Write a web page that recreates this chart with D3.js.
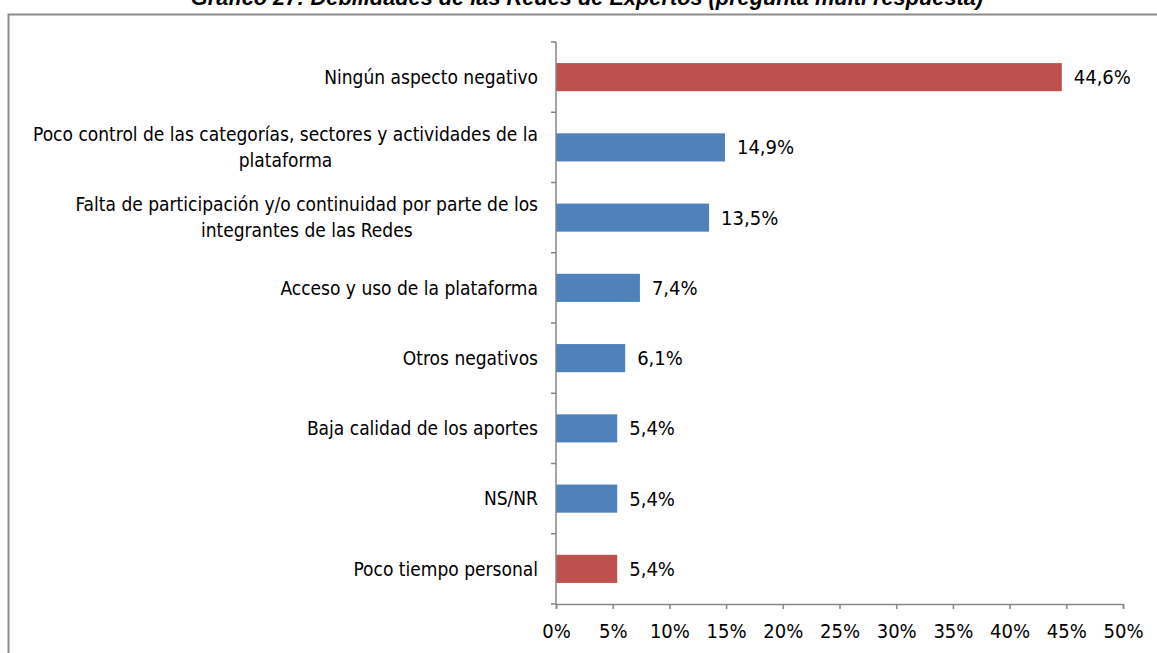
<!DOCTYPE html>
<html>
<head>
<meta charset="utf-8">
<script src="https://cdn.jsdelivr.net/npm/d3@7"></script>
<style>
  body { margin: 0; background: #fff; }
  svg { display: block; }
  .lbl { font-family: "Liberation Sans Narrow", "Arial Narrow", "DejaVu Sans Condensed", sans-serif; fill: #000; }
</style>
</head>
<body>
<svg width="1157" height="653"></svg>
<script>
// categorias (de arriba a abajo), cada una con sus lineas
var categories = [
    ["Ningún aspecto negativo"],
    ["Poco control de las categorías, sectores y actividades de la", "plataforma"],
    ["Falta de participación y/o continuidad por parte de los", "integrantes de las Redes"],
    ["Acceso y uso de la plataforma"],
    ["Otros negativos"],
    ["Baja calidad de los aportes"],
    ["NS/NR"],
    ["Poco tiempo personal"]
];
var values = [44.6, 14.9, 13.5, 7.4, 6.1, 5.4, 5.4, 5.4];
var highlight = [true, false, false, false, false, false, false, true]; // barras rojas
var ticks = [0, 5, 10, 15, 20, 25, 30, 35, 40, 45, 50];
var title = "Gráfico 27: Debilidades de las Redes de Expertos (pregunta multi respuesta)";

var svg = d3.select("svg");

// titulo (cortado arriba como en la imagen)
var t = svg.append("text")
    .attr("x", 587)
    .attr("y", 5)
    .attr("text-anchor", "middle")
    .style("font-family", "Liberation Sans, Arial, sans-serif")
    .style("font-weight", "bold")
    .style("font-style", "italic")
    .style("font-size", "20px")
    .text(title);
// ajustar tamaño para que ocupe el mismo ancho (~793px)
t.style("font-size", (20 * 793 / t.node().getComputedTextLength()) + "px");

// marco
svg.append("path")
    .attr("d", "M8.5,660 V14.5 H1160")
    .attr("fill", "none")
    .attr("stroke", "#8c8c8c")
    .attr("stroke-width", 2);

var x = d3.scaleLinear().domain([0, 50]).range([556, 1123]);
var y = d3.scaleBand().domain(d3.range(categories.length)).range([42, 604]).paddingInner(0.6).paddingOuter(0.3);
var yb = d3.scaleBand().domain(d3.range(categories.length)).range([42, 604]);

// barras
svg.selectAll("rect.bar")
    .data(values)
    .enter().append("rect")
    .attr("class", "bar")
    .attr("x", x(0))
    .attr("y", function(d, i) { return y(i); })
    .attr("width", function(d) { return x(d) - x(0); })
    .attr("height", y.bandwidth())
    .attr("fill", function(d, i) { return highlight[i] ? "#c0504d" : "#4f81bd"; });

// etiquetas de valor
svg.selectAll("text.val")
    .data(values)
    .enter().append("text")
    .attr("class", "lbl val")
    .attr("x", function(d) { return x(d) + 12; })
    .attr("y", function(d, i) { return yb(i) + yb.bandwidth() / 2; })
    .attr("dy", "0.35em")
    .style("font-size", "20px")
    .text(function(d) { return d.toFixed(1).replace(".", ",") + "%"; });

// eje y
var yAxis = svg.append("g");
yAxis.append("line")
    .attr("x1", x(0)).attr("x2", x(0))
    .attr("y1", 42).attr("y2", 604)
    .attr("stroke", "#868686").attr("stroke-width", 1.5);
yAxis.selectAll("line.tk")
    .data(d3.range(categories.length + 1))
    .enter().append("line")
    .attr("class", "tk")
    .attr("x1", x(0) - 5).attr("x2", x(0))
    .attr("y1", function(i) { return 42 + i * yb.step(); })
    .attr("y2", function(i) { return 42 + i * yb.step(); })
    .attr("stroke", "#868686").attr("stroke-width", 1.5);

// etiquetas de categoria
var lineH = 26;
categories.forEach(function(lines, i) {
    var cy = yb(i) + yb.bandwidth() / 2;
    var g = svg.append("g");
    var texts = lines.map(function(l, j) {
        return g.append("text")
            .attr("class", "lbl")
            .attr("y", cy + (j - (lines.length - 1) / 2) * lineH)
            .attr("dy", "0.35em")
            .style("font-size", "19px")
            .text(l);
    });
    var w = d3.max(texts, function(t) { return t.node().getComputedTextLength(); });
    texts.forEach(function(t) {
        t.attr("x", 538 - w / 2).attr("text-anchor", "middle");
    });
});

// eje x
var xAxis = d3.axisBottom(x)
    .tickValues(ticks)
    .tickSize(5)
    .tickFormat(function(d) { return d + "%"; });
var gx = svg.append("g")
    .attr("transform", "translate(0,604)")
    .call(xAxis);
gx.select(".domain").attr("stroke", "#868686").attr("stroke-width", 1.5);
gx.selectAll(".tick line").attr("stroke", "#868686").attr("stroke-width", 1.5);
gx.selectAll(".tick text")
    .attr("class", "lbl")
    .attr("y", 20)
    .style("font-size", "20px");
</script>
</body>
</html>
